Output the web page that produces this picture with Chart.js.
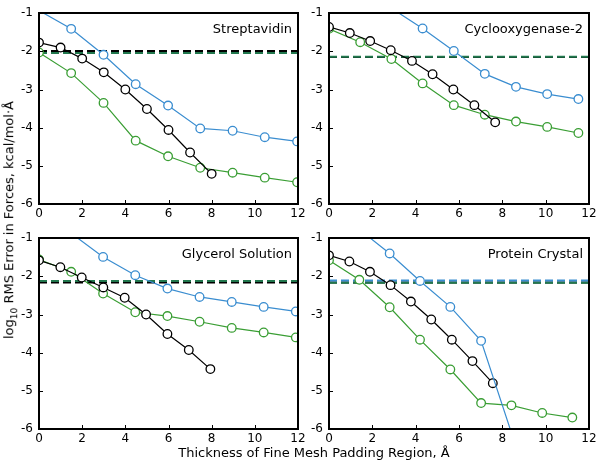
<!DOCTYPE html>
<html>
<head>
<meta charset="utf-8">
<script src="https://cdn.jsdelivr.net/npm/chart.js@4"></script>
<style>
    body { margin: 0; background: #fff; }
    #wrap { position: relative; width: 600px; height: 463px; overflow: hidden; font-family: "DejaVu Sans", sans-serif; }
    canvas { position: absolute; }
    #ytitle { position: absolute; left: 10px; top: 220px; transform: translate(-50%, -50%) rotate(-90deg); white-space: nowrap; font-size: 13px; }
    #xtitle { position: absolute; left: 314px; top: 452px; transform: translate(-50%, -50%); white-space: nowrap; font-size: 13px; }
    sub { font-size: 9px; }
</style>
</head>
<body>
<div id="wrap">
    <canvas id="p1" width="310" height="225" style="left:0;top:0"></canvas>
    <canvas id="p2" width="305" height="225" style="left:295px;top:0"></canvas>
    <canvas id="p3" width="310" height="225" style="left:0;top:225px"></canvas>
    <canvas id="p4" width="305" height="225" style="left:295px;top:225px"></canvas>
    <div id="ytitle">log<sub>10</sub> RMS Error in Forces, kcal/mol·Å</div>
    <div id="xtitle">Thickness of Fine Mesh Padding Region, Å</div>
</div>
<script>
// Streptavidin
const strepX = [0, 1.49, 2.99, 4.48, 5.98, 7.47, 8.97, 10.46, 11.96];
const strepBlackX = [0, 1, 2, 3, 4, 5, 6, 7, 8];
const strepBlue = [-0.93, -1.41, -2.09, -2.86, -3.42, -4.02, -4.08, -4.25, -4.36];
const strepBlack = [-1.77, -1.90, -2.19, -2.55, -3.00, -3.51, -4.06, -4.65, -5.21];
const strepGreen = [-2.03, -2.57, -3.35, -4.34, -4.75, -5.05, -5.18, -5.31, -5.43];
const strepRef = [null, -1.99, -2.04]; // blue, black, green

// Cyclooxygenase-2
const coxX = [0, 1.44, 2.88, 4.32, 5.76, 7.19, 8.63, 10.07, 11.51];
const coxBlueX = [2.88, 4.32, 5.76, 7.19, 8.63, 10.07, 11.51];
const coxBlackX = [0, 0.96, 1.90, 2.85, 3.83, 4.78, 5.74, 6.71, 7.67];
const coxBlue = [-0.87, -1.40, -1.99, -2.59, -2.93, -3.12, -3.25];
const coxBlack = [-1.36, -1.52, -1.73, -1.97, -2.25, -2.60, -3.00, -3.41, -3.86];
const coxGreen = [-1.41, -1.76, -2.20, -2.84, -3.41, -3.66, -3.84, -3.98, -4.14];
const coxRef = [null, -2.15, -2.14];

// Glycerol Solution
const glyX = [0, 1.49, 2.97, 4.46, 5.95, 7.44, 8.93, 10.41, 11.9];
const glyBlueX = [1.49, 2.97, 4.46, 5.95, 7.44, 8.93, 10.41, 11.9];
const glyBlackX = [0, 0.99, 1.98, 2.98, 3.97, 4.96, 5.95, 6.94, 7.94];
const glyBlue = [-0.87, -1.49, -1.97, -2.32, -2.54, -2.67, -2.80, -2.92];
const glyBlack = [-1.58, -1.76, -2.03, -2.29, -2.56, -3.00, -3.51, -3.93, -4.43];
const glyGreen = [-1.56, -1.88, -2.45, -2.94, -3.04, -3.19, -3.35, -3.47, -3.60];
const glyRef = [null, -2.16, -2.12];

// Protein Crystal
const protX = [0, 1.40, 2.80, 4.20, 5.60, 7.02, 8.42, 9.84, 11.23];
const protBlueX = [1.40, 2.80, 4.20, 5.60, 7.02, 8.42];
const protBlackX = [0, 0.94, 1.89, 2.84, 3.78, 4.72, 5.67, 6.62, 7.56];
const protBlue = [-0.77, -1.40, -2.12, -2.80, -3.69, -6.10];
const protBlack = [-1.45, -1.61, -1.88, -2.23, -2.66, -3.13, -3.66, -4.22, -4.80];
const protGreen = [-1.58, -2.09, -2.81, -3.66, -4.44, -5.32, -5.38, -5.58, -5.70];
const protRef = [-2.11, -2.16, -2.17];

const xTicks = [0, 2, 4, 6, 8, 10, 12];
const yTicks = [-1, -2, -3, -4, -5, -6];

const BLUE = '#3a8dd0';
const BLACK = '#000000';
const GREEN = '#3a9e34';
const REF_GREEN = '#22784e';

Chart.defaults.color = '#000';
Chart.defaults.font.family = '"DejaVu Sans", sans-serif';
Chart.defaults.font.size = 12;

function pts(xs, ys) {
    return xs.map((x, i) => ({ x: x, y: ys[i] }));
}

function series(xs, ys, color) {
    return {
        data: pts(xs, ys),
        borderColor: color,
        borderWidth: 1.2,
        backgroundColor: '#fff',
        pointBorderColor: color,
        pointBackgroundColor: '#fff',
        pointBorderWidth: 1.3,
        pointRadius: c => (c.raw && (c.raw.y > -1 || c.raw.y < -6)) ? 0 : 4.3,
        pointHoverRadius: 4.3,
        clip: 0,
        order: 1
    };
}

function refLine(y, color, order) {
    return {
        data: y === null ? [] : [{ x: 0, y: y }, { x: 12, y: y }],
        borderColor: color,
        borderWidth: 2,
        borderDash: [8, 4],
        pointRadius: 0,
        clip: 0,
        order: order
    };
}

// frame, inward ticks and the panel name
const framePlugin = {
    id: 'frame',
    afterDraw(chart) {
        const ctx = chart.ctx;
        const a = chart.chartArea;
        const sx = chart.scales.x, sy = chart.scales.y;
        const L = Math.round(a.left), R = Math.round(a.right);
        const T = Math.round(a.top), B = Math.round(a.bottom);
        ctx.save();
        ctx.fillStyle = '#000000';
        xTicks.forEach(t => {
            const px = Math.round(sx.getPixelForValue(t));
            ctx.fillRect(px, B - 4, 1, 4);
        });
        yTicks.forEach(t => {
            const py = Math.round(sy.getPixelForValue(t));
            ctx.fillRect(L, py, 4, 1);
        });
        ctx.fillRect(L - 1, T - 1, R - L + 2, 2);
        ctx.fillRect(L - 1, B - 1, R - L + 2, 2);
        ctx.fillRect(L - 1, T - 1, 2, B - T + 2);
        ctx.fillRect(R - 1, T - 1, 2, B - T + 2);
        ctx.font = '13px "DejaVu Sans", sans-serif';
        ctx.textAlign = 'right';
        ctx.textBaseline = 'alphabetic';
        ctx.fillText(chart.config.options.panelName, R - 6, T + 20);
        ctx.restore();
    }
};

function makePanel(id, name, yWidth, rightPad, bx, bY, kx, kY, gx, gY, ref) {
    new Chart(document.getElementById(id), {
        type: 'line',
        data: {
            datasets: [
                refLine(ref[0], BLUE, 2),
                refLine(ref[2], REF_GREEN, 3),
                refLine(ref[1], BLACK, 4),
                series(bx, bY, BLUE),
                series(kx, kY, BLACK),
                series(gx, gY, GREEN)
            ]
        },
        options: {
            panelName: name,
            responsive: false,
            animation: false,
            layout: { padding: { top: 10, right: rightPad, left: 0, bottom: 0 } },
            plugins: { legend: { display: false }, tooltip: { enabled: false } },
            scales: {
                x: {
                    type: 'linear',
                    min: 0, max: 12,
                    afterBuildTicks: s => { s.ticks = xTicks.map(v => ({ value: v })); },
                    grid: { display: false, drawTicks: false },
                    border: { display: false },
                    ticks: { padding: 3, maxRotation: 0 },
                    afterFit: s => { s.height = 21; }
                },
                y: {
                    type: 'linear',
                    min: -6, max: -1,
                    afterBuildTicks: s => { s.ticks = yTicks.map(v => ({ value: v })); },
                    grid: { display: false, drawTicks: false },
                    border: { display: false },
                    ticks: { padding: 6 },
                    afterFit: s => { s.width = yWidth; }
                }
            }
        },
        plugins: [framePlugin]
    });
}

makePanel('p1', 'Streptavidin', 39, 12, strepX, strepBlue, strepBlackX, strepBlack, strepX, strepGreen, strepRef);
makePanel('p2', 'Cyclooxygenase-2', 34, 11, coxBlueX, coxBlue, coxBlackX, coxBlack, coxX, coxGreen, coxRef);
makePanel('p3', 'Glycerol Solution', 39, 12, glyBlueX, glyBlue, glyBlackX, glyBlack, glyX, glyGreen, glyRef);
makePanel('p4', 'Protein Crystal', 34, 11, protBlueX, protBlue, protBlackX, protBlack, protX, protGreen, protRef);
</script>
</body>
</html>
